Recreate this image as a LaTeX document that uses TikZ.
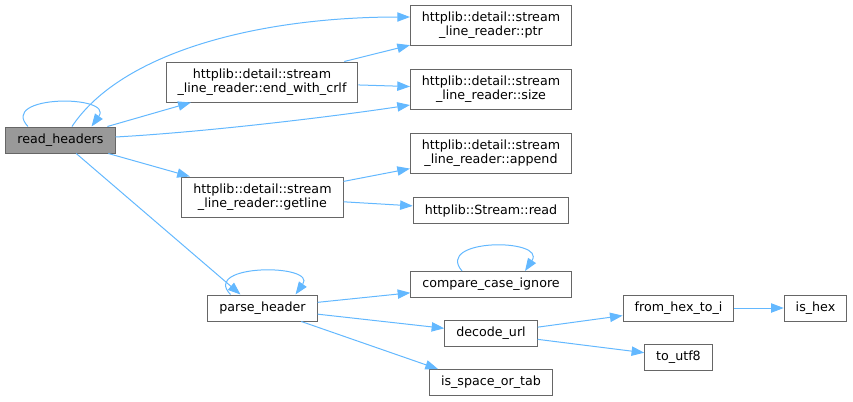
\documentclass[tikz,border=0pt]{standalone}
\usepackage{fontspec}
\setmainfont{DejaVu Sans}
\usepackage{xcolor}
\usetikzlibrary{arrows.meta}
\definecolor{callblue}{HTML}{63B8FF}

\begin{document}
\begin{tikzpicture}[x=0.75pt, y=-0.75pt,
  font=\fontsize{9.5}{10.5}\selectfont,
  fn/.style={draw=black!60, line width=0.75pt, fill=white, inner xsep=8.6pt, inner ysep=2pt,
    minimum height=19.5pt, align=center},
  fntwo/.style={fn, minimum height=30pt},
  root/.style={fn, fill=black!40},
  call/.style={draw=callblue, line width=0.75pt, -{Triangle[length=9.5pt, width=7pt]}}]
\useasboundingbox (0,0) rectangle (853,401);
\node[root] (rh) at (60.5,140) {read\_headers};
\node[fntwo] (ewc) at (262,82) {httplib::detail::stream\\\_line\_reader::end\_with\_crlf};
\node[fntwo] (gl) at (262.5,197) {httplib::detail::stream\\\_line\_reader::getline};
\node[fntwo] (ptr) at (491,25) {httplib::detail::stream\\\_line\_reader::ptr};
\node[fntwo] (size) at (491,89) {httplib::detail::stream\\\_line\_reader::size};
\node[fntwo] (append) at (491,153) {httplib::detail::stream\\\_line\_reader::append};
\node[fn] (read) at (491,210.5) {httplib::Stream::read};
\node[fn] (ph) at (262.5,308) {parse\_header};
\node[fn] (cci) at (491,284.5) {compare\_case\_ignore};
\node[fn] (durl) at (491,333.5) {decode\_url};
\node[fn] (isot) at (491,382.5) {is\_space\_or\_tab};
\node[fn] (fhti) at (678.5,308) {from\_hex\_to\_i};
\node[fn] (ishex) at (815.5,308) {is\_hex};
\node[fn] (utf8) at (678.5,357) {to\_utf8};
% straight calls
\foreach \a/\b in {rh/ewc, rh/gl, ewc/ptr, ewc/size, gl/append, gl/read,
  ph/cci, ph/durl, durl/fhti, durl/utf8, fhti/ishex}
  \draw[call] (\a) -- (\b);
\draw[call] (rh) -- ([xshift=-16.5pt]ph.north);
\draw[call] (ph) -- ([xshift=-39.75pt]isot.north);
% curved calls
\draw[call] ([xshift=8.6pt]rh.north) .. controls +(50,-75) and +(-150,0) .. ([yshift=6pt]ptr.west);
\draw[call] ([yshift=2.25pt]rh.east) .. controls +(90,-5) and +(-80,12) .. ([yshift=-12pt]size.west);
% recursion
\draw[call] ([xshift=-24.4pt]rh.north) .. controls +(-30,-32) and +(23,-32) .. ([xshift=23.25pt]rh.north);
\draw[call] ([xshift=-24pt]ph.north) .. controls +(-30,-31) and +(22,-31) .. ([xshift=24.75pt]ph.north);
\draw[call] ([xshift=-21.75pt]cci.north) .. controls +(-28,-33) and +(22,-33) .. ([xshift=25.5pt]cci.north);
\end{tikzpicture}
\end{document}
